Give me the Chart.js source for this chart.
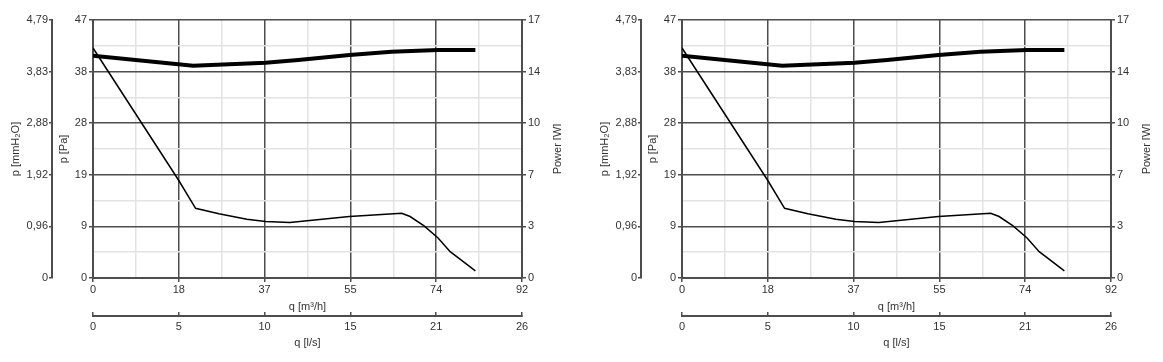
<!DOCTYPE html>
<html>
<head>
<meta charset="utf-8">
<script src="https://cdn.jsdelivr.net/npm/chart.js@4"></script>
<style>
  body { margin: 0; background: #fff; }
  canvas { position: absolute; top: 0; }
  #left { left: 0; }
  #right { left: 589px; }
</style>
</head>
<body>
<canvas id="left" width="561" height="362"></canvas>
<canvas id="right" width="561" height="362"></canvas>
<script>
// pressure curve, q [m3/h] -> p [Pa]
const flowPressure = [0, 18.3, 22, 27, 33, 37, 42.2, 55, 66.2, 68, 71, 74, 76.6, 82];
const pressurePa = [41.9, 17.9, 12.7, 11.7, 10.7, 10.3, 10.1, 11.2, 11.8, 11.2, 9.5, 7.3, 4.8, 1.3];

// power curve, q [m3/h] -> W
const flowPower = [0, 21.5, 37, 44, 55, 64, 74, 82];
const powerW = [14.65, 13.98, 14.18, 14.36, 14.69, 14.9, 15.02, 15.02];

// axis ranges and tick labels
const qM3hMax = 92, qLsMax = 26, paMax = 47, mmMax = 4.79, wMax = 17;
const qM3hLabels = ['0', '18', '37', '55', '74', '92'];
const qLsLabels = ['0', '5', '10', '15', '21', '26'];
const paLabels = ['0', '9', '19', '28', '38', '47'];
const mmLabels = ['0', '0,96', '1,92', '2,88', '3,83', '4,79'];
const wLabels = ['0', '3', '7', '10', '14', '17'];

const dark = '#4d4d4d';
const light = '#e3e3e3';
const textColor = '#333';

Chart.defaults.font.family = '"Liberation Sans", Arial, sans-serif';
Chart.defaults.font.size = 11;
Chart.defaults.color = textColor;

const evenTicks = (n) => (scale) => {
  scale.ticks = Array.from({length: n + 1}, (_, i) => ({value: scale.max * i / n}));
};
const fixW = (w) => (scale) => { scale.width = w; };
const fixH = (h) => (scale) => { scale.height = h; };

const powerTitle = {
  id: 'powerTitle',
  afterDraw(chart) {
    const {ctx, chartArea} = chart;
    const s = chart.scales.yW;
    ctx.save();
    ctx.translate(s.right - 3, (chartArea.top + chartArea.bottom) / 2);
    ctx.rotate(-Math.PI / 2);
    ctx.font = '11px "Liberation Sans", Arial, sans-serif';
    ctx.fillStyle = textColor;
    ctx.textAlign = 'center';
    ctx.textBaseline = 'middle';
    ctx.fillText('Power [W]', 0, 0);
    ctx.restore();
  }
};

function makeChart(canvas) {
  return new Chart(canvas, {
    type: 'line',
    data: {
      datasets: [{
        label: 'p',
        data: flowPressure.map((q, i) => ({x: q, y: pressurePa[i]})),
        xAxisID: 'x',
        yAxisID: 'y',
        borderColor: '#000',
        borderWidth: 1.5,
        pointRadius: 0,
        tension: 0
      }, {
        label: 'Power',
        data: flowPower.map((q, i) => ({x: q, y: powerW[i]})),
        xAxisID: 'x',
        yAxisID: 'yW',
        borderColor: '#000',
        borderWidth: 4,
        pointRadius: 0,
        tension: 0
      }]
    },
    options: {
      responsive: false,
      animation: false,
      devicePixelRatio: 1,
      layout: {padding: {top: 20, bottom: 10, left: 0, right: 0}},
      plugins: {legend: {display: false}, tooltip: {enabled: false}},
      scales: {
        x: {
          type: 'linear', position: 'bottom', weight: 0,
          min: 0, max: qM3hMax,
          afterBuildTicks: evenTicks(10),
          afterFit: fixH(38),
          grid: {
            color: c => c.index % 2 ? light : dark,
            tickColor: c => c.index % 2 ? 'rgba(0,0,0,0)' : dark,
            lineWidth: 1.5, tickLength: 4
          },
          border: {color: dark, width: 2},
          ticks: {
            autoSkip: false, maxRotation: 0, padding: 1,
            callback: (v, i) => i % 2 ? '' : qM3hLabels[i / 2]
          },
          title: {display: true, text: 'q [m³/h]', padding: {top: 0, bottom: 2}}
        },
        xLs: {
          type: 'linear', position: 'bottom', weight: 1,
          min: 0, max: qLsMax,
          afterBuildTicks: evenTicks(5),
          afterFit: fixH(36),
          grid: {drawOnChartArea: false, color: dark, lineWidth: 1.5, tickLength: -4},
          border: {color: dark, width: 2},
          ticks: {
            autoSkip: false, maxRotation: 0, padding: 8,
            callback: (v, i) => qLsLabels[i]
          },
          title: {display: true, text: 'q [l/s]', padding: {top: 0, bottom: 2}}
        },
        yMm: {
          type: 'linear', position: 'left', weight: 1,
          min: 0, max: mmMax,
          afterBuildTicks: evenTicks(5),
          afterFit: fixW(52),
          grid: {drawOnChartArea: false, color: dark, lineWidth: 1.5, tickLength: 3},
          border: {color: dark, width: 2},
          ticks: {autoSkip: false, padding: 1, callback: (v, i) => mmLabels[i]},
          title: {display: true, text: 'p [mmH₂O]', padding: {top: 9, bottom: 0}}
        },
        y: {
          type: 'linear', position: 'left', weight: 0,
          min: 0, max: paMax,
          afterBuildTicks: evenTicks(10),
          afterFit: fixW(41),
          grid: {
            color: c => c.index % 2 ? light : dark,
            tickColor: c => c.index % 2 ? 'rgba(0,0,0,0)' : dark,
            lineWidth: 1.5, tickLength: 4
          },
          border: {color: dark, width: 2},
          ticks: {
            autoSkip: false, padding: 2,
            callback: (v, i) => i % 2 ? '' : paLabels[i / 2]
          },
          title: {display: true, text: 'p [Pa]', padding: {top: 5, bottom: 0}}
        },
        yW: {
          type: 'linear', position: 'right',
          min: 0, max: wMax,
          afterBuildTicks: evenTicks(5),
          afterFit: fixW(39),
          grid: {drawOnChartArea: false, color: dark, lineWidth: 1.5, tickLength: 4},
          border: {color: dark, width: 2},
          ticks: {autoSkip: false, padding: 2, callback: (v, i) => wLabels[i]}
        }
      }
    },
    plugins: [powerTitle]
  });
}

makeChart(document.getElementById('left'));
makeChart(document.getElementById('right'));
</script>
</body>
</html>
